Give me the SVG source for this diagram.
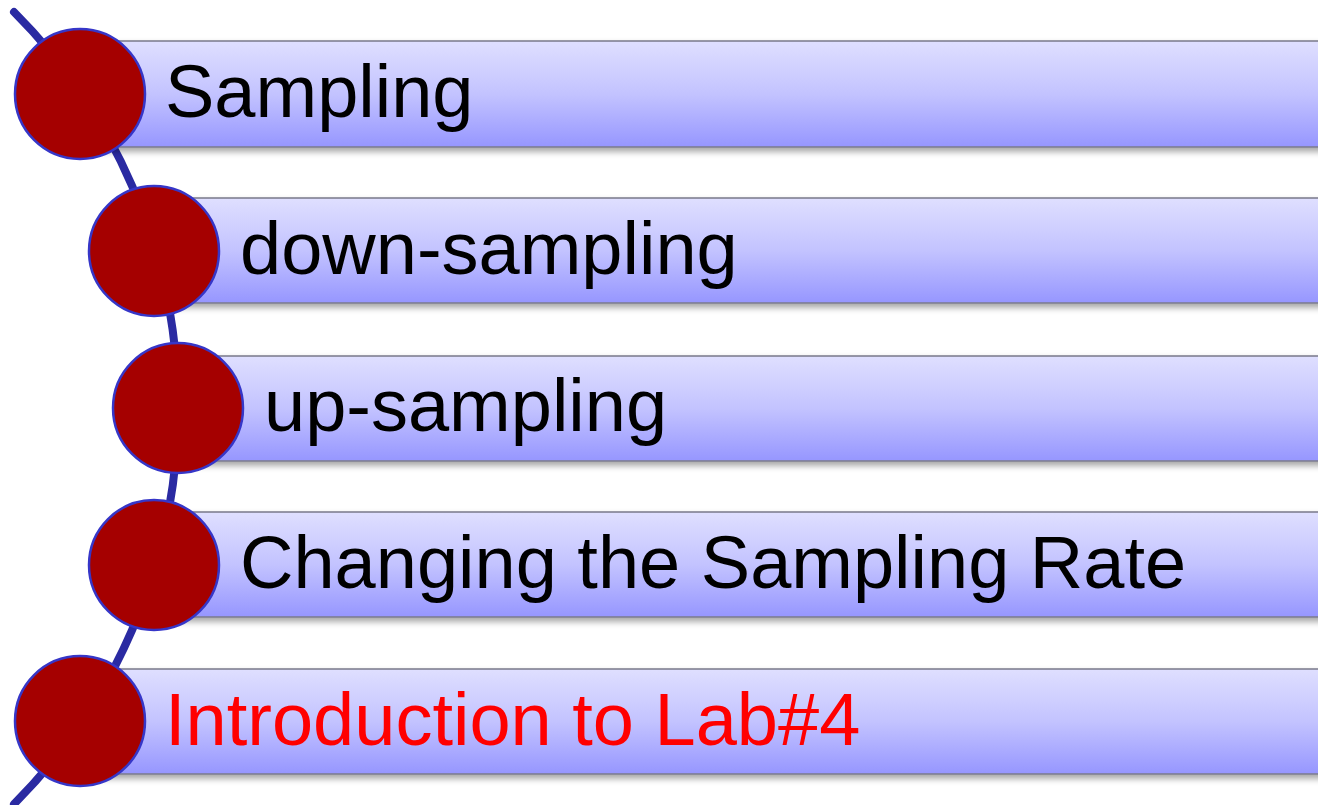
<svg xmlns="http://www.w3.org/2000/svg" width="1318" height="805" viewBox="0 0 1318 805">
  <style>
    .bar { fill: url(#barGrad); stroke: #7a7a8a; stroke-width: 1.5; filter: url(#shadow); }
    .dot { fill: #A50000; stroke: #3636C8; stroke-width: 2.5; }
    .lbl { font-family: "Liberation Sans", Arial, sans-serif; font-size: 74px; fill: #000000; }
    .red { fill: #FF0000; }
    .arc { fill: none; stroke: #2A2AA2; stroke-width: 8; stroke-linecap: round; }
  </style>
  <defs>
    <linearGradient id="barGrad" x1="0" y1="0" x2="0" y2="1">
      <stop offset="0" stop-color="#DFDFFF"/>
      <stop offset="0.5" stop-color="#C3C3FF"/>
      <stop offset="1" stop-color="#9696FF"/>
    </linearGradient>
    <filter id="shadow" x="-5%" y="-20%" width="110%" height="150%">
      <feDropShadow dx="0" dy="4" stdDeviation="3" flood-color="#000000" flood-opacity="0.35"/>
    </filter>
  </defs>
  <rect width="1318" height="805" fill="#FFFFFF"/>
  <g id="connectors">
    <path class="arc" d="M 14 12 A 560 560 0 0 1 14 804"/>
  </g>
  <g id="node1">
    <rect class="bar" x="100" y="41" width="1240" height="106"/>
    <circle class="dot" cx="80" cy="94" r="65"/>
    <text class="lbl" x="165" y="117">Sampling</text>
  </g>
  <g id="node2">
    <rect class="bar" x="175" y="198" width="1165" height="105"/>
    <circle class="dot" cx="154" cy="251" r="65"/>
    <text class="lbl" x="240" y="274">down-sampling</text>
  </g>
  <g id="node3">
    <rect class="bar" x="198" y="356" width="1142" height="105"/>
    <circle class="dot" cx="178" cy="408" r="65"/>
    <text class="lbl" x="264" y="431">up-sampling</text>
  </g>
  <g id="node4">
    <rect class="bar" x="175" y="512" width="1165" height="105"/>
    <circle class="dot" cx="154" cy="565" r="65"/>
    <text class="lbl" x="240" y="588">Changing the Sampling Rate</text>
  </g>
  <g id="node5">
    <rect class="bar" x="100" y="669" width="1240" height="105"/>
    <circle class="dot" cx="80" cy="721" r="65"/>
    <text class="lbl red" x="165" y="745">Introduction to Lab#4</text>
  </g>
</svg>
